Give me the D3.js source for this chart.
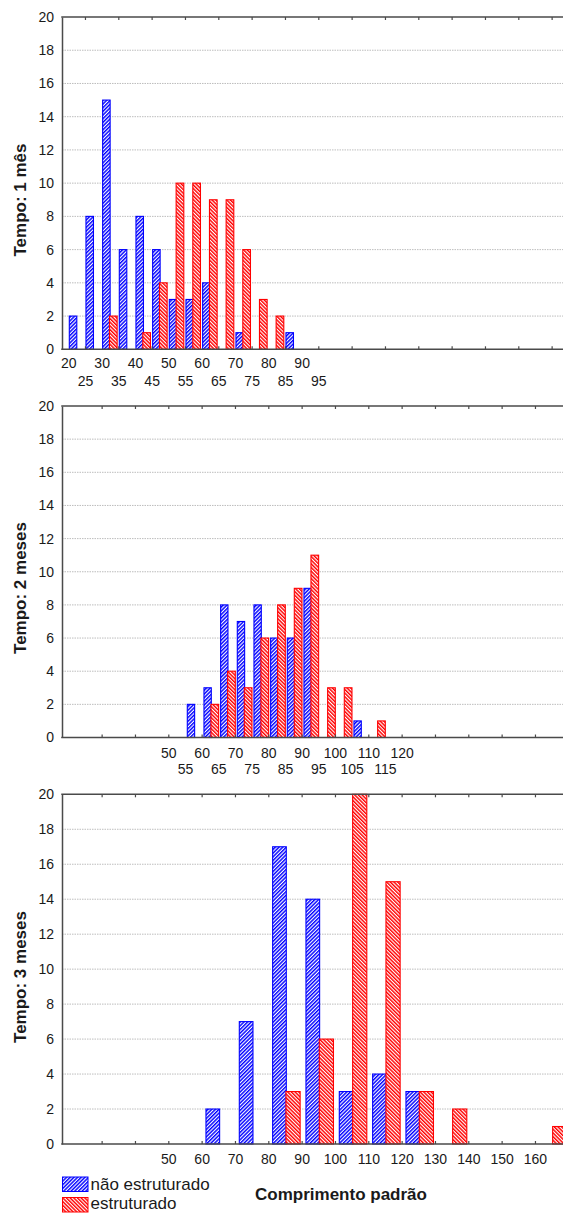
<!DOCTYPE html>
<html>
<head>
<meta charset="utf-8">
<script src="https://cdn.jsdelivr.net/npm/d3@7"></script>
<style>
  html, body { margin: 0; padding: 0; background: #fff; }
  svg { display: block; }
  text { font-family: "Liberation Sans", Arial, sans-serif; fill: #1a1a1a; }
</style>
</head>
<body>
<svg id="chart" width="563" height="1215"></svg>
<script>
// Legend entries
const seriesNames = ["não estruturado", "estruturado"];

// Tempo: 1 mês (classes de 5)
const bins1 = [20, 25, 30, 35, 40, 45, 50, 55, 60, 65, 70, 75, 80, 85];
const naoEstruturado1 = [2, 8, 15, 6, 8, 6, 3, 3, 4, 0, 1, 0, 0, 1];
const estruturado1   = [0, 0, 2, 0, 1, 4, 10, 10, 9, 9, 6, 3, 2, 0];
const labelsRowA1 = [20, 30, 40, 50, 60, 70, 80, 90];
const labelsRowB1 = [25, 35, 45, 55, 65, 75, 85, 95];
const tickMarks1 = [25, 35, 45, 55, 65, 75, 85, 95, 105, 115, 125, 135, 145, 155, 165];

// Tempo: 2 meses (classes de 5)
const bins2 = [55, 60, 65, 70, 75, 80, 85, 90, 95, 100, 105, 110];
const naoEstruturado2 = [2, 3, 8, 7, 8, 6, 6, 9, 0, 0, 1, 0];
const estruturado2   = [0, 2, 4, 3, 6, 8, 9, 11, 3, 3, 0, 1];
const labelsRowA2 = [50, 60, 70, 80, 90, 100, 110, 120];
const labelsRowB2 = [55, 65, 75, 85, 95, 105, 115];
const tickMarks2 = [30, 40, 50, 60, 70, 80, 90, 100, 110, 120, 130, 140, 150, 160];

// Tempo: 3 meses (classes de 10)
const bins3 = [60, 70, 80, 90, 100, 110, 120, 130, 140, 150, 160];
const naoEstruturado3 = [2, 7, 17, 14, 3, 4, 3, 0, 0, 0, 0];
const estruturado3   = [0, 0, 3, 6, 20, 15, 3, 2, 0, 0, 1];
const labelsRow3 = [50, 60, 70, 80, 90, 100, 110, 120, 130, 140, 150, 160];
const tickMarks3 = [30, 40, 50, 60, 70, 80, 90, 100, 110, 120, 130, 140, 150, 160];

// Frequency axis
const yTicks = [0, 2, 4, 6, 8, 10, 12, 14, 16, 18, 20];
const yMax = 20;

const xTitle = "Comprimento padrão";

const BLUE = "#0000ff";
const RED = "#ff0000";
const AXIS = "#4a4a4a";
const W = 563;
const plotLeft = 62;

const svg = d3.select("#chart");

// Hatch fills: blue rising, red falling
const defs = svg.append("defs");
function hatch(id, color, angle) {
  const s = 2.6;
  const p = defs.append("pattern")
    .attr("id", id)
    .attr("patternUnits", "userSpaceOnUse")
    .attr("width", s).attr("height", s)
    .attr("patternTransform", `rotate(${angle})`);
  p.append("rect").attr("width", s).attr("height", s).attr("fill", "#fff");
  p.append("rect").attr("width", 1.45).attr("height", s).attr("fill", color);
}
hatch("hatchBlue", BLUE, 45);
hatch("hatchRed", RED, -45);

// Shared length scale for all three panels
const x = d3.scaleLinear().domain([20, 170]).range([68.3, 568.3]);

const panels = [
  { title: "Tempo: 1 mês", top: 17, bottom: 349.3, titleY: 200,
    bins: bins1, a: naoEstruturado1, b: estruturado1, bw: 5,
    fa: [0.06, 0.51], fb: [0.47, 0.93], tickMarks: tickMarks1,
    rows: [{ vals: labelsRowA1, pad: 9 }, { vals: labelsRowB1, pad: 27 }] },
  { title: "Tempo: 2 meses", top: 406, bottom: 737.5, titleY: 588,
    bins: bins2, a: naoEstruturado2, b: estruturado2, bw: 5,
    fa: [0.14, 0.58], fb: [0.56, 1.02], tickMarks: tickMarks2,
    rows: [{ vals: labelsRowA2, pad: 10.5 }, { vals: labelsRowB2, pad: 27 }] },
  { title: "Tempo: 3 meses", top: 794.3, bottom: 1144, titleY: 977,
    bins: bins3, a: naoEstruturado3, b: estruturado3, bw: 10,
    fa: [0.13, 0.54], fb: [0.53, 0.955], tickMarks: tickMarks3,
    rows: [{ vals: labelsRow3, pad: 10.3 }] }
];

panels.forEach(P => {
  const y = d3.scaleLinear().domain([0, yMax]).range([P.bottom, P.top]);
  const g = svg.append("g");

  // dotted grid
  g.append("g").selectAll("line")
    .data(yTicks.filter(v => v > 0 && v < yMax))
    .join("line")
    .attr("x1", plotLeft).attr("x2", W)
    .attr("y1", d => y(d)).attr("y2", d => y(d))
    .attr("stroke", "#bdbdbd").attr("stroke-width", 1)
    .attr("stroke-dasharray", "1.5,1");

  // bars
  const rows = P.bins.map((bin, i) => ({ bin, a: P.a[i], b: P.b[i] }));
  const drawSeries = (key, frac, fill, stroke) => {
    g.append("g").selectAll("rect")
      .data(rows.filter(d => d[key] > 0))
      .join("rect")
      .attr("x", d => x(d.bin + P.bw * frac[0]))
      .attr("width", d => x(d.bin + P.bw * frac[1]) - x(d.bin + P.bw * frac[0]))
      .attr("y", d => y(d[key]))
      .attr("height", d => y(0) - y(d[key]))
      .attr("fill", `url(#${fill})`)
      .attr("stroke", stroke).attr("stroke-width", 1.1);
  };
  drawSeries("a", P.fa, "hatchBlue", BLUE);
  drawSeries("b", P.fb, "hatchRed", RED);

  // frame: top line and bottom axis with inward ticks
  const topAxis = g.append("g").attr("transform", `translate(0,${P.top})`)
    .call(d3.axisTop(x).tickValues(P.tickMarks).tickSize(-3).tickFormat(""));
  const botAxis = g.append("g").attr("transform", `translate(0,${P.bottom})`)
    .call(d3.axisBottom(x).tickValues(P.tickMarks).tickSize(-3).tickFormat(""));
  [topAxis, botAxis].forEach(ax => {
    ax.select(".domain").remove();
    ax.selectAll(".tick line").attr("stroke", AXIS).attr("stroke-width", 1.2);
  });
  [P.top, P.bottom].forEach(yy => {
    g.append("line").attr("x1", plotLeft - 0.75).attr("x2", W)
      .attr("y1", yy).attr("y2", yy)
      .attr("stroke", AXIS).attr("stroke-width", 1.5);
  });

  // length labels
  P.rows.forEach(r => {
    const ax = g.append("g").attr("transform", `translate(0,${P.bottom})`)
      .call(d3.axisBottom(x).tickValues(r.vals).tickSize(0).tickPadding(r.pad)
        .tickFormat(d3.format("d")));
    ax.select(".domain").remove();
    ax.selectAll("text").attr("font-size", 14)
      .attr("font-family", "'Liberation Sans', Arial, sans-serif").attr("fill", "#1a1a1a");
  });

  // frequency axis
  const yAx = g.append("g").attr("transform", `translate(${plotLeft},0)`)
    .call(d3.axisLeft(y).tickValues(yTicks).tickSize(0).tickPadding(8));
  yAx.select(".domain").attr("stroke", AXIS).attr("stroke-width", 1.5);
  yAx.selectAll("text").attr("font-size", 14)
    .attr("font-family", "'Liberation Sans', Arial, sans-serif").attr("fill", "#1a1a1a");

  // panel title
  svg.append("text")
    .attr("transform", `translate(20,${P.titleY}) rotate(-90)`)
    .attr("text-anchor", "middle").attr("dy", "0.35em")
    .attr("font-size", 17).attr("font-weight", "bold")
    .text(P.title);
});

// legend
const legend = svg.append("g");
const legendItems = [
  { name: seriesNames[0], fill: "hatchBlue", stroke: BLUE, y: 1177, base: 1189.5 },
  { name: seriesNames[1], fill: "hatchRed", stroke: RED, y: 1197.5, base: 1208.5 }
];
legendItems.forEach(it => {
  legend.append("rect")
    .attr("x", 62.5).attr("y", it.y).attr("width", 25.5).attr("height", 14.5)
    .attr("fill", `url(#${it.fill})`).attr("stroke", it.stroke).attr("stroke-width", 1);
  legend.append("text")
    .attr("x", 90.5).attr("y", it.base)
    .attr("font-size", 17)
    .text(it.name);
});

// length axis title
svg.append("text")
  .attr("x", 341).attr("y", 1200)
  .attr("text-anchor", "middle")
  .attr("font-size", 17).attr("font-weight", "bold")
  .text(xTitle);
</script>
</body>
</html>
